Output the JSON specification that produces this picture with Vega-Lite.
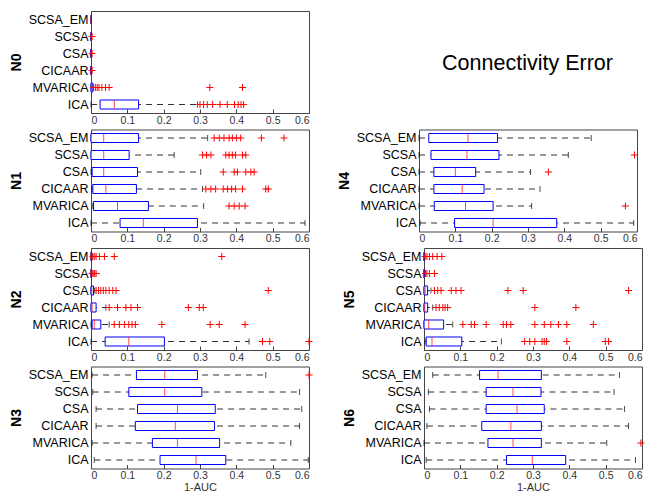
{
"$schema": "https://vega.github.io/schema/vega-lite/v6.json",
"padding": {"left": 8, "top": 10, "right": 5, "bottom": 0},
"background": "white",
"datasets": {
"stats": [
{"panel":"N0","method":"SCSA_EM","lo":0,"q1":0,"med":0,"q3":0.001,"hi":0.001},
{"panel":"N0","method":"SCSA","lo":0,"q1":0,"med":0,"q3":0,"hi":0},
{"panel":"N0","method":"CSA","lo":0,"q1":0,"med":0,"q3":0,"hi":0},
{"panel":"N0","method":"CICAAR","lo":0,"q1":0,"med":0,"q3":0,"hi":0},
{"panel":"N0","method":"MVARICA","lo":0,"q1":0,"med":0.001,"q3":0.005,"hi":0.005},
{"panel":"N0","method":"ICA","lo":0,"q1":0.025,"med":0.064,"q3":0.131,"hi":0.293},
{"panel":"N1","method":"SCSA_EM","lo":0,"q1":0,"med":0.035,"q3":0.131,"hi":0.321},
{"panel":"N1","method":"SCSA","lo":0,"q1":0,"med":0.035,"q3":0.105,"hi":0.229},
{"panel":"N1","method":"CSA","lo":0,"q1":0.003,"med":0.035,"q3":0.128,"hi":0.302},
{"panel":"N1","method":"CICAAR","lo":0.003,"q1":0.005,"med":0.041,"q3":0.125,"hi":0.307},
{"panel":"N1","method":"MVARICA","lo":0.005,"q1":0.007,"med":0.073,"q3":0.158,"hi":0.31},
{"panel":"N1","method":"ICA","lo":0,"q1":0.08,"med":0.144,"q3":0.293,"hi":0.589},
{"panel":"N2","method":"SCSA_EM","lo":0,"q1":0,"med":0,"q3":0.002,"hi":0.003},
{"panel":"N2","method":"SCSA","lo":0,"q1":0,"med":0,"q3":0.001,"hi":0.002},
{"panel":"N2","method":"CSA","lo":0,"q1":0,"med":0.002,"q3":0.007,"hi":0.01},
{"panel":"N2","method":"CICAAR","lo":0,"q1":0,"med":0.003,"q3":0.014,"hi":0.041},
{"panel":"N2","method":"MVARICA","lo":0,"q1":0.003,"med":0.009,"q3":0.027,"hi":0.05},
{"panel":"N2","method":"ICA","lo":0,"q1":0.039,"med":0.104,"q3":0.202,"hi":0.435},
{"panel":"N3","method":"SCSA_EM","lo":0.003,"q1":0.125,"med":0.203,"q3":0.293,"hi":0.481},
{"panel":"N3","method":"SCSA","lo":0.005,"q1":0.104,"med":0.203,"q3":0.305,"hi":0.574},
{"panel":"N3","method":"CSA","lo":0.014,"q1":0.128,"med":0.238,"q3":0.342,"hi":0.58},
{"panel":"N3","method":"CICAAR","lo":0.014,"q1":0.122,"med":0.232,"q3":0.34,"hi":0.574},
{"panel":"N3","method":"MVARICA","lo":0.003,"q1":0.169,"med":0.238,"q3":0.354,"hi":0.55},
{"panel":"N3","method":"ICA","lo":0.009,"q1":0.19,"med":0.289,"q3":0.371,"hi":0.598},
{"panel":"N4","method":"SCSA_EM","lo":0,"q1":0.027,"med":0.135,"q3":0.216,"hi":0.474},
{"panel":"N4","method":"SCSA","lo":0,"q1":0.033,"med":0.132,"q3":0.22,"hi":0.411},
{"panel":"N4","method":"CSA","lo":0,"q1":0.041,"med":0.1,"q3":0.156,"hi":0.307},
{"panel":"N4","method":"CICAAR","lo":0,"q1":0.041,"med":0.119,"q3":0.179,"hi":0.333},
{"panel":"N4","method":"MVARICA","lo":0,"q1":0.042,"med":0.128,"q3":0.204,"hi":0.31},
{"panel":"N4","method":"ICA","lo":0.003,"q1":0.098,"med":0.204,"q3":0.379,"hi":0.591},
{"panel":"N5","method":"SCSA_EM","lo":0,"q1":0,"med":0,"q3":0.001,"hi":0.002},
{"panel":"N5","method":"SCSA","lo":0,"q1":0,"med":0,"q3":0.001,"hi":0.002},
{"panel":"N5","method":"CSA","lo":0,"q1":0,"med":0.003,"q3":0.01,"hi":0.019},
{"panel":"N5","method":"CICAAR","lo":0,"q1":0,"med":0.002,"q3":0.01,"hi":0.024},
{"panel":"N5","method":"MVARICA","lo":0,"q1":0,"med":0.013,"q3":0.054,"hi":0.079},
{"panel":"N5","method":"ICA","lo":0.003,"q1":0.006,"med":0.022,"q3":0.104,"hi":0.213},
{"panel":"N6","method":"SCSA_EM","lo":0.024,"q1":0.153,"med":0.204,"q3":0.323,"hi":0.538},
{"panel":"N6","method":"SCSA","lo":0.012,"q1":0.171,"med":0.245,"q3":0.322,"hi":0.523},
{"panel":"N6","method":"CSA","lo":0.015,"q1":0.171,"med":0.256,"q3":0.331,"hi":0.552},
{"panel":"N6","method":"CICAAR","lo":0.008,"q1":0.159,"med":0.239,"q3":0.323,"hi":0.563},
{"panel":"N6","method":"MVARICA","lo":0,"q1":0.176,"med":0.245,"q3":0.323,"hi":0.503},
{"panel":"N6","method":"ICA","lo":0.006,"q1":0.227,"med":0.298,"q3":0.39,"hi":0.582}
],
"outliers": [
{"panel":"N0","method":"SCSA","v":0.003},
{"panel":"N0","method":"CSA","v":0.003},
{"panel":"N0","method":"CICAAR","v":0.003},
{"panel":"N0","method":"MVARICA","v":0.007},
{"panel":"N0","method":"MVARICA","v":0.012},
{"panel":"N0","method":"MVARICA","v":0.017},
{"panel":"N0","method":"MVARICA","v":0.022},
{"panel":"N0","method":"MVARICA","v":0.03},
{"panel":"N0","method":"MVARICA","v":0.04},
{"panel":"N0","method":"MVARICA","v":0.05},
{"panel":"N0","method":"MVARICA","v":0.327},
{"panel":"N0","method":"MVARICA","v":0.417},
{"panel":"N0","method":"ICA","v":0.3},
{"panel":"N0","method":"ICA","v":0.31},
{"panel":"N0","method":"ICA","v":0.32},
{"panel":"N0","method":"ICA","v":0.335},
{"panel":"N0","method":"ICA","v":0.355},
{"panel":"N0","method":"ICA","v":0.375},
{"panel":"N0","method":"ICA","v":0.395},
{"panel":"N0","method":"ICA","v":0.405},
{"panel":"N0","method":"ICA","v":0.413},
{"panel":"N0","method":"ICA","v":0.42},
{"panel":"N1","method":"SCSA_EM","v":0.339},
{"panel":"N1","method":"SCSA_EM","v":0.353},
{"panel":"N1","method":"SCSA_EM","v":0.366},
{"panel":"N1","method":"SCSA_EM","v":0.38},
{"panel":"N1","method":"SCSA_EM","v":0.389},
{"panel":"N1","method":"SCSA_EM","v":0.4},
{"panel":"N1","method":"SCSA_EM","v":0.412},
{"panel":"N1","method":"SCSA_EM","v":0.469},
{"panel":"N1","method":"SCSA_EM","v":0.531},
{"panel":"N1","method":"SCSA","v":0.307},
{"panel":"N1","method":"SCSA","v":0.318},
{"panel":"N1","method":"SCSA","v":0.33},
{"panel":"N1","method":"SCSA","v":0.371},
{"panel":"N1","method":"SCSA","v":0.38},
{"panel":"N1","method":"SCSA","v":0.389},
{"panel":"N1","method":"SCSA","v":0.398},
{"panel":"N1","method":"SCSA","v":0.417},
{"panel":"N1","method":"SCSA","v":0.426},
{"panel":"N1","method":"CSA","v":0.364},
{"panel":"N1","method":"CSA","v":0.394},
{"panel":"N1","method":"CSA","v":0.403},
{"panel":"N1","method":"CSA","v":0.426},
{"panel":"N1","method":"CSA","v":0.44},
{"panel":"N1","method":"CSA","v":0.449},
{"panel":"N1","method":"CICAAR","v":0.316},
{"panel":"N1","method":"CICAAR","v":0.33},
{"panel":"N1","method":"CICAAR","v":0.343},
{"panel":"N1","method":"CICAAR","v":0.364},
{"panel":"N1","method":"CICAAR","v":0.376},
{"panel":"N1","method":"CICAAR","v":0.387},
{"panel":"N1","method":"CICAAR","v":0.398},
{"panel":"N1","method":"CICAAR","v":0.417},
{"panel":"N1","method":"CICAAR","v":0.481},
{"panel":"N1","method":"CICAAR","v":0.488},
{"panel":"N1","method":"MVARICA","v":0.38},
{"panel":"N1","method":"MVARICA","v":0.394},
{"panel":"N1","method":"MVARICA","v":0.408},
{"panel":"N1","method":"MVARICA","v":0.424},
{"panel":"N2","method":"SCSA_EM","v":0.005},
{"panel":"N2","method":"SCSA_EM","v":0.009},
{"panel":"N2","method":"SCSA_EM","v":0.014},
{"panel":"N2","method":"SCSA_EM","v":0.023},
{"panel":"N2","method":"SCSA_EM","v":0.037},
{"panel":"N2","method":"SCSA_EM","v":0.064},
{"panel":"N2","method":"SCSA_EM","v":0.36},
{"panel":"N2","method":"SCSA","v":0.003},
{"panel":"N2","method":"SCSA","v":0.006},
{"panel":"N2","method":"SCSA","v":0.01},
{"panel":"N2","method":"SCSA","v":0.014},
{"panel":"N2","method":"CSA","v":0.014},
{"panel":"N2","method":"CSA","v":0.021},
{"panel":"N2","method":"CSA","v":0.027},
{"panel":"N2","method":"CSA","v":0.034},
{"panel":"N2","method":"CSA","v":0.041},
{"panel":"N2","method":"CSA","v":0.05},
{"panel":"N2","method":"CSA","v":0.06},
{"panel":"N2","method":"CSA","v":0.069},
{"panel":"N2","method":"CSA","v":0.488},
{"panel":"N2","method":"CICAAR","v":0.05},
{"panel":"N2","method":"CICAAR","v":0.073},
{"panel":"N2","method":"CICAAR","v":0.096},
{"panel":"N2","method":"CICAAR","v":0.11},
{"panel":"N2","method":"CICAAR","v":0.128},
{"panel":"N2","method":"CICAAR","v":0.268},
{"panel":"N2","method":"CICAAR","v":0.298},
{"panel":"N2","method":"CICAAR","v":0.309},
{"panel":"N2","method":"MVARICA","v":0.064},
{"panel":"N2","method":"MVARICA","v":0.078},
{"panel":"N2","method":"MVARICA","v":0.092},
{"panel":"N2","method":"MVARICA","v":0.104},
{"panel":"N2","method":"MVARICA","v":0.113},
{"panel":"N2","method":"MVARICA","v":0.122},
{"panel":"N2","method":"MVARICA","v":0.195},
{"panel":"N2","method":"MVARICA","v":0.328},
{"panel":"N2","method":"MVARICA","v":0.353},
{"panel":"N2","method":"MVARICA","v":0.424},
{"panel":"N2","method":"ICA","v":0.472},
{"panel":"N2","method":"ICA","v":0.492},
{"panel":"N2","method":"ICA","v":0.6},
{"panel":"N3","method":"SCSA_EM","v":0.6},
{"panel":"N4","method":"SCSA","v":0.593},
{"panel":"N4","method":"CSA","v":0.356},
{"panel":"N4","method":"MVARICA","v":0.568},
{"panel":"N5","method":"SCSA_EM","v":0.003},
{"panel":"N5","method":"SCSA_EM","v":0.008},
{"panel":"N5","method":"SCSA_EM","v":0.015},
{"panel":"N5","method":"SCSA_EM","v":0.024},
{"panel":"N5","method":"SCSA_EM","v":0.036},
{"panel":"N5","method":"SCSA_EM","v":0.049},
{"panel":"N5","method":"SCSA","v":0.004},
{"panel":"N5","method":"SCSA","v":0.008},
{"panel":"N5","method":"SCSA","v":0.015},
{"panel":"N5","method":"SCSA","v":0.029},
{"panel":"N5","method":"CSA","v":0.029},
{"panel":"N5","method":"CSA","v":0.038},
{"panel":"N5","method":"CSA","v":0.047},
{"panel":"N5","method":"CSA","v":0.075},
{"panel":"N5","method":"CSA","v":0.088},
{"panel":"N5","method":"CSA","v":0.102},
{"panel":"N5","method":"CSA","v":0.231},
{"panel":"N5","method":"CSA","v":0.273},
{"panel":"N5","method":"CSA","v":0.563},
{"panel":"N5","method":"CICAAR","v":0.033},
{"panel":"N5","method":"CICAAR","v":0.042},
{"panel":"N5","method":"CICAAR","v":0.052},
{"panel":"N5","method":"CICAAR","v":0.058},
{"panel":"N5","method":"CICAAR","v":0.065},
{"panel":"N5","method":"CICAAR","v":0.305},
{"panel":"N5","method":"CICAAR","v":0.418},
{"panel":"N5","method":"MVARICA","v":0.107},
{"panel":"N5","method":"MVARICA","v":0.13},
{"panel":"N5","method":"MVARICA","v":0.139},
{"panel":"N5","method":"MVARICA","v":0.171},
{"panel":"N5","method":"MVARICA","v":0.218},
{"panel":"N5","method":"MVARICA","v":0.227},
{"panel":"N5","method":"MVARICA","v":0.239},
{"panel":"N5","method":"MVARICA","v":0.305},
{"panel":"N5","method":"MVARICA","v":0.331},
{"panel":"N5","method":"MVARICA","v":0.349},
{"panel":"N5","method":"MVARICA","v":0.37},
{"panel":"N5","method":"MVARICA","v":0.393},
{"panel":"N5","method":"MVARICA","v":0.466},
{"panel":"N5","method":"ICA","v":0.277},
{"panel":"N5","method":"ICA","v":0.291},
{"panel":"N5","method":"ICA","v":0.305},
{"panel":"N5","method":"ICA","v":0.325},
{"panel":"N5","method":"ICA","v":0.331},
{"panel":"N5","method":"ICA","v":0.337},
{"panel":"N5","method":"ICA","v":0.393},
{"panel":"N5","method":"ICA","v":0.499},
{"panel":"N5","method":"ICA","v":0.508},
{"panel":"N6","method":"MVARICA","v":0.597}
]
},
"vconcat": [
{"hconcat": [
{"width": 218, "height": 102, "layer": [
{"data":{"name":"stats"},"transform":[{"filter":"datum.panel==='N0'"}],"mark":{"type":"rule","color":"#333","strokeDash":[6,5],"strokeWidth":1},"encoding":{"x":{"field":"lo","type":"quantitative","scale":{"domain":[0,0.6],"nice":false,"zero":false},"axis":{"title":null}},"x2":{"field":"hi"},"y":{"field":"method","type":"nominal","scale":{"domain":["SCSA_EM","SCSA","CSA","CICAAR","MVARICA","ICA"],"paddingInner":0,"paddingOuter":0},"axis":{"title":"N0"}}}},
{"data":{"name":"stats"},"transform":[{"filter":"datum.panel==='N0'"}],"mark":{"type":"tick","color":"#000","size":6,"thickness":1},"encoding":{"x":{"field":"lo","type":"quantitative"},"y":{"field":"method","type":"nominal"}}},
{"data":{"name":"stats"},"transform":[{"filter":"datum.panel==='N0'"}],"mark":{"type":"tick","color":"#000","size":6,"thickness":1},"encoding":{"x":{"field":"hi","type":"quantitative"},"y":{"field":"method","type":"nominal"}}},
{"data":{"name":"stats"},"transform":[{"filter":"datum.panel==='N0'"}],"mark":{"type":"bar","fill":"white","stroke":"#0000ff","strokeWidth":1,"height":{"band":0.53}},"encoding":{"x":{"field":"q1","type":"quantitative"},"x2":{"field":"q3"},"y":{"field":"method","type":"nominal"}}},
{"data":{"name":"stats"},"transform":[{"filter":"datum.panel==='N0'"}],"mark":{"type":"tick","color":"#ff0000","size":9,"thickness":1},"encoding":{"x":{"field":"med","type":"quantitative"},"y":{"field":"method","type":"nominal"}}},
{"data":{"name":"outliers"},"transform":[{"filter":"datum.panel==='N0'"}],"mark":{"type":"point","shape":"M-1,0L1,0M0,-1L0,1","filled":false,"stroke":"#ff0000","strokeWidth":1,"opacity":1,"size":49},"encoding":{"x":{"field":"v","type":"quantitative"},"y":{"field":"method","type":"nominal"}}}
]},
{"width": 217, "height": 102, "view": {"stroke": null}, "data": {"values": [{"t": "Connectivity Error"}]}, "mark": {"type": "text", "fontSize": 21.5, "font": "Liberation Sans", "color": "#000", "dx": 83, "dy": 2}, "encoding": {"text": {"field": "t", "type": "nominal"}}}
], "spacing": 26},
{"hconcat": [
{"width": 218, "height": 102, "layer": [
{"data":{"name":"stats"},"transform":[{"filter":"datum.panel==='N1'"}],"mark":{"type":"rule","color":"#333","strokeDash":[6,5],"strokeWidth":1},"encoding":{"x":{"field":"lo","type":"quantitative","scale":{"domain":[0,0.6],"nice":false,"zero":false},"axis":{"title":null}},"x2":{"field":"hi"},"y":{"field":"method","type":"nominal","scale":{"domain":["SCSA_EM","SCSA","CSA","CICAAR","MVARICA","ICA"],"paddingInner":0,"paddingOuter":0},"axis":{"title":"N1"}}}},
{"data":{"name":"stats"},"transform":[{"filter":"datum.panel==='N1'"}],"mark":{"type":"tick","color":"#000","size":6,"thickness":1},"encoding":{"x":{"field":"lo","type":"quantitative"},"y":{"field":"method","type":"nominal"}}},
{"data":{"name":"stats"},"transform":[{"filter":"datum.panel==='N1'"}],"mark":{"type":"tick","color":"#000","size":6,"thickness":1},"encoding":{"x":{"field":"hi","type":"quantitative"},"y":{"field":"method","type":"nominal"}}},
{"data":{"name":"stats"},"transform":[{"filter":"datum.panel==='N1'"}],"mark":{"type":"bar","fill":"white","stroke":"#0000ff","strokeWidth":1,"height":{"band":0.53}},"encoding":{"x":{"field":"q1","type":"quantitative"},"x2":{"field":"q3"},"y":{"field":"method","type":"nominal"}}},
{"data":{"name":"stats"},"transform":[{"filter":"datum.panel==='N1'"}],"mark":{"type":"tick","color":"#ff0000","size":9,"thickness":1},"encoding":{"x":{"field":"med","type":"quantitative"},"y":{"field":"method","type":"nominal"}}},
{"data":{"name":"outliers"},"transform":[{"filter":"datum.panel==='N1'"}],"mark":{"type":"point","shape":"M-1,0L1,0M0,-1L0,1","filled":false,"stroke":"#ff0000","strokeWidth":1,"opacity":1,"size":49},"encoding":{"x":{"field":"v","type":"quantitative"},"y":{"field":"method","type":"nominal"}}}
]},
{"width": 218, "height": 102, "layer": [
{"data":{"name":"stats"},"transform":[{"filter":"datum.panel==='N4'"}],"mark":{"type":"rule","color":"#333","strokeDash":[6,5],"strokeWidth":1},"encoding":{"x":{"field":"lo","type":"quantitative","scale":{"domain":[0,0.6],"nice":false,"zero":false},"axis":{"title":null}},"x2":{"field":"hi"},"y":{"field":"method","type":"nominal","scale":{"domain":["SCSA_EM","SCSA","CSA","CICAAR","MVARICA","ICA"],"paddingInner":0,"paddingOuter":0},"axis":{"title":"N4"}}}},
{"data":{"name":"stats"},"transform":[{"filter":"datum.panel==='N4'"}],"mark":{"type":"tick","color":"#000","size":6,"thickness":1},"encoding":{"x":{"field":"lo","type":"quantitative"},"y":{"field":"method","type":"nominal"}}},
{"data":{"name":"stats"},"transform":[{"filter":"datum.panel==='N4'"}],"mark":{"type":"tick","color":"#000","size":6,"thickness":1},"encoding":{"x":{"field":"hi","type":"quantitative"},"y":{"field":"method","type":"nominal"}}},
{"data":{"name":"stats"},"transform":[{"filter":"datum.panel==='N4'"}],"mark":{"type":"bar","fill":"white","stroke":"#0000ff","strokeWidth":1,"height":{"band":0.53}},"encoding":{"x":{"field":"q1","type":"quantitative"},"x2":{"field":"q3"},"y":{"field":"method","type":"nominal"}}},
{"data":{"name":"stats"},"transform":[{"filter":"datum.panel==='N4'"}],"mark":{"type":"tick","color":"#ff0000","size":9,"thickness":1},"encoding":{"x":{"field":"med","type":"quantitative"},"y":{"field":"method","type":"nominal"}}},
{"data":{"name":"outliers"},"transform":[{"filter":"datum.panel==='N4'"}],"mark":{"type":"point","shape":"M-1,0L1,0M0,-1L0,1","filled":false,"stroke":"#ff0000","strokeWidth":1,"opacity":1,"size":49},"encoding":{"x":{"field":"v","type":"quantitative"},"y":{"field":"method","type":"nominal"}}}
]}
], "spacing": 26},
{"hconcat": [
{"width": 218, "height": 102, "layer": [
{"data":{"name":"stats"},"transform":[{"filter":"datum.panel==='N2'"}],"mark":{"type":"rule","color":"#333","strokeDash":[6,5],"strokeWidth":1},"encoding":{"x":{"field":"lo","type":"quantitative","scale":{"domain":[0,0.6],"nice":false,"zero":false},"axis":{"title":null}},"x2":{"field":"hi"},"y":{"field":"method","type":"nominal","scale":{"domain":["SCSA_EM","SCSA","CSA","CICAAR","MVARICA","ICA"],"paddingInner":0,"paddingOuter":0},"axis":{"title":"N2"}}}},
{"data":{"name":"stats"},"transform":[{"filter":"datum.panel==='N2'"}],"mark":{"type":"tick","color":"#000","size":6,"thickness":1},"encoding":{"x":{"field":"lo","type":"quantitative"},"y":{"field":"method","type":"nominal"}}},
{"data":{"name":"stats"},"transform":[{"filter":"datum.panel==='N2'"}],"mark":{"type":"tick","color":"#000","size":6,"thickness":1},"encoding":{"x":{"field":"hi","type":"quantitative"},"y":{"field":"method","type":"nominal"}}},
{"data":{"name":"stats"},"transform":[{"filter":"datum.panel==='N2'"}],"mark":{"type":"bar","fill":"white","stroke":"#0000ff","strokeWidth":1,"height":{"band":0.53}},"encoding":{"x":{"field":"q1","type":"quantitative"},"x2":{"field":"q3"},"y":{"field":"method","type":"nominal"}}},
{"data":{"name":"stats"},"transform":[{"filter":"datum.panel==='N2'"}],"mark":{"type":"tick","color":"#ff0000","size":9,"thickness":1},"encoding":{"x":{"field":"med","type":"quantitative"},"y":{"field":"method","type":"nominal"}}},
{"data":{"name":"outliers"},"transform":[{"filter":"datum.panel==='N2'"}],"mark":{"type":"point","shape":"M-1,0L1,0M0,-1L0,1","filled":false,"stroke":"#ff0000","strokeWidth":1,"opacity":1,"size":49},"encoding":{"x":{"field":"v","type":"quantitative"},"y":{"field":"method","type":"nominal"}}}
]},
{"width": 218, "height": 102, "layer": [
{"data":{"name":"stats"},"transform":[{"filter":"datum.panel==='N5'"}],"mark":{"type":"rule","color":"#333","strokeDash":[6,5],"strokeWidth":1},"encoding":{"x":{"field":"lo","type":"quantitative","scale":{"domain":[0,0.6],"nice":false,"zero":false},"axis":{"title":null}},"x2":{"field":"hi"},"y":{"field":"method","type":"nominal","scale":{"domain":["SCSA_EM","SCSA","CSA","CICAAR","MVARICA","ICA"],"paddingInner":0,"paddingOuter":0},"axis":{"title":"N5"}}}},
{"data":{"name":"stats"},"transform":[{"filter":"datum.panel==='N5'"}],"mark":{"type":"tick","color":"#000","size":6,"thickness":1},"encoding":{"x":{"field":"lo","type":"quantitative"},"y":{"field":"method","type":"nominal"}}},
{"data":{"name":"stats"},"transform":[{"filter":"datum.panel==='N5'"}],"mark":{"type":"tick","color":"#000","size":6,"thickness":1},"encoding":{"x":{"field":"hi","type":"quantitative"},"y":{"field":"method","type":"nominal"}}},
{"data":{"name":"stats"},"transform":[{"filter":"datum.panel==='N5'"}],"mark":{"type":"bar","fill":"white","stroke":"#0000ff","strokeWidth":1,"height":{"band":0.53}},"encoding":{"x":{"field":"q1","type":"quantitative"},"x2":{"field":"q3"},"y":{"field":"method","type":"nominal"}}},
{"data":{"name":"stats"},"transform":[{"filter":"datum.panel==='N5'"}],"mark":{"type":"tick","color":"#ff0000","size":9,"thickness":1},"encoding":{"x":{"field":"med","type":"quantitative"},"y":{"field":"method","type":"nominal"}}},
{"data":{"name":"outliers"},"transform":[{"filter":"datum.panel==='N5'"}],"mark":{"type":"point","shape":"M-1,0L1,0M0,-1L0,1","filled":false,"stroke":"#ff0000","strokeWidth":1,"opacity":1,"size":49},"encoding":{"x":{"field":"v","type":"quantitative"},"y":{"field":"method","type":"nominal"}}}
]}
], "spacing": 26},
{"hconcat": [
{"width": 218, "height": 102, "layer": [
{"data":{"name":"stats"},"transform":[{"filter":"datum.panel==='N3'"}],"mark":{"type":"rule","color":"#333","strokeDash":[6,5],"strokeWidth":1},"encoding":{"x":{"field":"lo","type":"quantitative","scale":{"domain":[0,0.6],"nice":false,"zero":false},"axis":{"title":"1-AUC"}},"x2":{"field":"hi"},"y":{"field":"method","type":"nominal","scale":{"domain":["SCSA_EM","SCSA","CSA","CICAAR","MVARICA","ICA"],"paddingInner":0,"paddingOuter":0},"axis":{"title":"N3"}}}},
{"data":{"name":"stats"},"transform":[{"filter":"datum.panel==='N3'"}],"mark":{"type":"tick","color":"#000","size":6,"thickness":1},"encoding":{"x":{"field":"lo","type":"quantitative"},"y":{"field":"method","type":"nominal"}}},
{"data":{"name":"stats"},"transform":[{"filter":"datum.panel==='N3'"}],"mark":{"type":"tick","color":"#000","size":6,"thickness":1},"encoding":{"x":{"field":"hi","type":"quantitative"},"y":{"field":"method","type":"nominal"}}},
{"data":{"name":"stats"},"transform":[{"filter":"datum.panel==='N3'"}],"mark":{"type":"bar","fill":"white","stroke":"#0000ff","strokeWidth":1,"height":{"band":0.53}},"encoding":{"x":{"field":"q1","type":"quantitative"},"x2":{"field":"q3"},"y":{"field":"method","type":"nominal"}}},
{"data":{"name":"stats"},"transform":[{"filter":"datum.panel==='N3'"}],"mark":{"type":"tick","color":"#ff0000","size":9,"thickness":1},"encoding":{"x":{"field":"med","type":"quantitative"},"y":{"field":"method","type":"nominal"}}},
{"data":{"name":"outliers"},"transform":[{"filter":"datum.panel==='N3'"}],"mark":{"type":"point","shape":"M-1,0L1,0M0,-1L0,1","filled":false,"stroke":"#ff0000","strokeWidth":1,"opacity":1,"size":49},"encoding":{"x":{"field":"v","type":"quantitative"},"y":{"field":"method","type":"nominal"}}}
]},
{"width": 218, "height": 102, "layer": [
{"data":{"name":"stats"},"transform":[{"filter":"datum.panel==='N6'"}],"mark":{"type":"rule","color":"#333","strokeDash":[6,5],"strokeWidth":1},"encoding":{"x":{"field":"lo","type":"quantitative","scale":{"domain":[0,0.6],"nice":false,"zero":false},"axis":{"title":"1-AUC"}},"x2":{"field":"hi"},"y":{"field":"method","type":"nominal","scale":{"domain":["SCSA_EM","SCSA","CSA","CICAAR","MVARICA","ICA"],"paddingInner":0,"paddingOuter":0},"axis":{"title":"N6"}}}},
{"data":{"name":"stats"},"transform":[{"filter":"datum.panel==='N6'"}],"mark":{"type":"tick","color":"#000","size":6,"thickness":1},"encoding":{"x":{"field":"lo","type":"quantitative"},"y":{"field":"method","type":"nominal"}}},
{"data":{"name":"stats"},"transform":[{"filter":"datum.panel==='N6'"}],"mark":{"type":"tick","color":"#000","size":6,"thickness":1},"encoding":{"x":{"field":"hi","type":"quantitative"},"y":{"field":"method","type":"nominal"}}},
{"data":{"name":"stats"},"transform":[{"filter":"datum.panel==='N6'"}],"mark":{"type":"bar","fill":"white","stroke":"#0000ff","strokeWidth":1,"height":{"band":0.53}},"encoding":{"x":{"field":"q1","type":"quantitative"},"x2":{"field":"q3"},"y":{"field":"method","type":"nominal"}}},
{"data":{"name":"stats"},"transform":[{"filter":"datum.panel==='N6'"}],"mark":{"type":"tick","color":"#ff0000","size":9,"thickness":1},"encoding":{"x":{"field":"med","type":"quantitative"},"y":{"field":"method","type":"nominal"}}},
{"data":{"name":"outliers"},"transform":[{"filter":"datum.panel==='N6'"}],"mark":{"type":"point","shape":"M-1,0L1,0M0,-1L0,1","filled":false,"stroke":"#ff0000","strokeWidth":1,"opacity":1,"size":49},"encoding":{"x":{"field":"v","type":"quantitative"},"y":{"field":"method","type":"nominal"}}}
]}
], "spacing": 26}
],
"spacing": 2.5,
"config": {
"view": {"stroke": "#444", "strokeWidth": 1},
"axis": {"grid": false, "domain": false, "labelFont": "Liberation Sans", "titleFont": "Liberation Sans"},
"axisX": {"values": [0, 0.1, 0.2, 0.3, 0.4, 0.5, 0.6], "format": "~g", "labelFontSize": 10.5, "labelColor": "#333", "tickSize": -4, "tickColor": "#444", "labelPadding": 6, "titleFontSize": 11, "titleFontWeight": "normal", "titleColor": "#333", "titlePadding": 0},
"axisY": {"ticks": false, "labelFontSize": 12.5, "labelColor": "#000", "labelPadding": 3, "titleFontSize": 14, "titleFontWeight": "bold", "titleColor": "#000", "titlePadding": 5}
}
}
